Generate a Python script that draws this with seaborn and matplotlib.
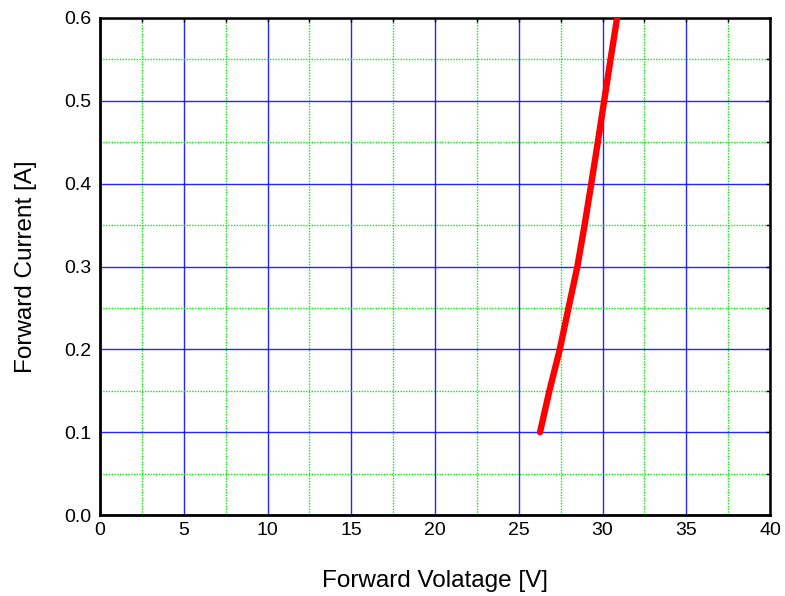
import numpy as np
import pandas as pd
import matplotlib
matplotlib.use("Agg")
import matplotlib.pyplot as plt
import seaborn as sns
from matplotlib.ticker import MultipleLocator

# Forward I-V characteristic
forward_voltage = [26.27, 26.83, 27.45, 27.97, 28.5, 28.93, 29.33, 29.72, 30.1, 30.48, 30.87]
forward_current = [0.10, 0.15, 0.20, 0.25, 0.30, 0.35, 0.40, 0.45, 0.50, 0.55, 0.60]

x_ticks = [0, 5, 10, 15, 20, 25, 30, 35, 40]
y_ticks = [0.0, 0.1, 0.2, 0.3, 0.4, 0.5, 0.6]

df = pd.DataFrame({"V": forward_voltage, "I": forward_current})

sns.set_style("white")
plt.rcParams["font.family"] = ["Liberation Sans", "DejaVu Sans"]
plt.rcParams["text.color"] = "black"
plt.rcParams["axes.labelcolor"] = "black"

fig = plt.figure(figsize=(7.85, 5.96), dpi=100)
ax = fig.add_axes([100 / 785, 81 / 596, 670 / 785, 497 / 596])

sns.lineplot(data=df, x="V", y="I", ax=ax, color="#ff0000", linewidth=4.6,
             solid_capstyle="round", solid_joinstyle="round", zorder=5)

ax.set_xlim(0, 40)
ax.set_ylim(0, 0.6)
ax.set_xticks(x_ticks)
ax.set_yticks(y_ticks)
ax.set_xticklabels([str(v) for v in x_ticks])
ax.set_yticklabels([f"{v:.1f}" for v in y_ticks])
ax.xaxis.set_minor_locator(MultipleLocator(2.5))
ax.yaxis.set_minor_locator(MultipleLocator(0.05))

ax.grid(which="major", color="#0000ff", linewidth=1.0, linestyle="-", alpha=0.85)
ax.grid(which="minor", color="#00ee00", linewidth=1.0, linestyle=(0, (1, 1)))
ax.set_axisbelow(True)

ax.tick_params(axis="both", which="both", direction="in", length=3, width=1,
               labelsize=14, top=True, right=True, colors="black")
ax.tick_params(axis="x", which="major", pad=5)
ax.tick_params(axis="y", which="major", pad=6)

for side in ["left", "bottom"]:
    ax.spines[side].set_linewidth(2.0)
for side in ["top", "right"]:
    ax.spines[side].set_linewidth(1.8)
for s in ax.spines.values():
    s.set_color("black")
    s.set_visible(True)

ax.set_xlabel("Forward Volatage [V]", fontsize=17.5, labelpad=22)
ax.set_ylabel("Forward Current [A]", fontsize=17.5, labelpad=20)

fig.savefig("out.png", dpi=100)
